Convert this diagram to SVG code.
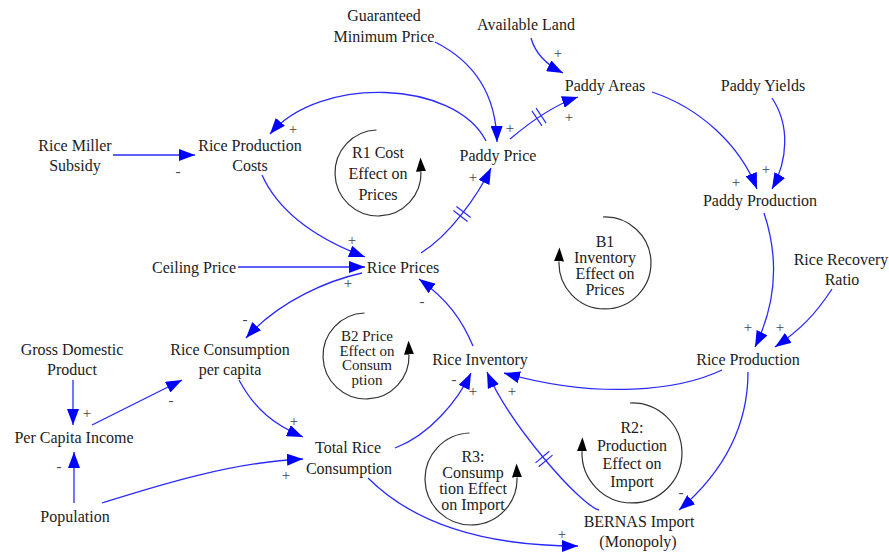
<svg xmlns="http://www.w3.org/2000/svg" xmlns:xlink="http://www.w3.org/1999/xlink" width="889" height="556" viewBox="0 0 889 556">
  <style>
    text { font-family: 'Liberation Serif', 'Times New Roman', Times, serif; }
    .lbl { font-size: 16px; fill: #1c1c1c; text-anchor: middle; }
    .sm { font-size: 15px; }
    .pol { font-size: 15px; fill: #444; text-anchor: middle; }
    .link { fill: none; stroke: #2a2aff; stroke-width: 1.3; marker-end: url(#arrow); }
    .loop { fill: none; stroke: #333; stroke-width: 1.2; marker-end: url(#loopArrow); }
    .delay line { stroke: #2a2aff; stroke-width: 1.2; }
  </style>
  <defs>
    <marker id="arrow" viewBox="0 0 16 12" refX="16" refY="6" markerWidth="16" markerHeight="12" markerUnits="userSpaceOnUse" orient="auto">
      <path d="M0,0 L16,6 L0,12 z" fill="#0000ff"/>
    </marker>
    <marker id="loopArrow" viewBox="0 0 14 10" refX="0" refY="5" markerWidth="14" markerHeight="10" markerUnits="userSpaceOnUse" orient="auto">
      <path d="M0,0 L14,5 L0,10 z" fill="#000"/>
    </marker>
    <g id="delayMark" class="delay">
      <line x1="-2.5" y1="-9" x2="-2.5" y2="9"/>
      <line x1="2.5" y1="-9" x2="2.5" y2="9"/>
    </g>
  </defs>
  <rect width="889" height="556" fill="#fff"/>

  <!-- causal links -->
  <g id="connectors">
    <path class="link" d="M435,42 C475,62 496,95 497,142"/>
    <path class="link" d="M531,38 Q537,60 563,73"/>
    <path class="link" d="M510,139 Q548,107 578,97"/>
    <path class="link" d="M486,141 C455,80 320,75 270,134"/>
    <path class="link" d="M113,155 L195,155"/>
    <path class="link" d="M262,175 C280,215 320,240 365,257"/>
    <path class="link" d="M238,267 L365,267"/>
    <path class="link" d="M421,253 C450,235 478,195 491,168"/>
    <path class="link" d="M362,273 C330,280 280,300 246,338"/>
    <path class="link" d="M473,346 C462,320 448,300 419,279"/>
    <path class="link" d="M722,370 C680,390 600,400 504,373"/>
    <path class="link" d="M652,92 C700,108 740,145 757,189"/>
    <path class="link" d="M772,98 C790,125 788,160 772,189"/>
    <path class="link" d="M764,213 C778,255 778,300 755,347"/>
    <path class="link" d="M832,289 C815,315 800,330 775,347"/>
    <path class="link" d="M748,372 C748,430 720,475 679,510"/>
    <path class="link" d="M599,510 C580,505 510,425 487,372"/>
    <path class="link" d="M395,448 C430,435 458,400 471,373"/>
    <path class="link" d="M368,478 C410,520 478,546 578,546"/>
    <path class="link" d="M239,380 C255,410 275,425 303,437"/>
    <path class="link" d="M92,425 L182,380"/>
    <path class="link" d="M73,380 L73,425"/>
    <path class="link" d="M74,503 L74,452"/>
    <path class="link" d="M102,503 C150,488 230,462 303,459"/>

    <!-- delays -->
    <use xlink:href="#delayMark" transform="translate(539,117) rotate(-33.7)"/>
    <use xlink:href="#delayMark" transform="translate(462,214) rotate(-52)"/>
    <use xlink:href="#delayMark" transform="translate(544,459) rotate(50)"/>

    <!-- link polarities -->
    <text class="pol" x="510" y="133">+</text>
    <text class="pol" x="558" y="58">+</text>
    <text class="pol" x="569" y="122">+</text>
    <text class="pol" x="293" y="134">+</text>
    <text class="pol" x="178" y="176">-</text>
    <text class="pol" x="352" y="245">+</text>
    <text class="pol" x="348" y="288">+</text>
    <text class="pol" x="473" y="182">+</text>
    <text class="pol" x="245" y="324">-</text>
    <text class="pol" x="422" y="306">-</text>
    <text class="pol" x="512" y="396">+</text>
    <text class="pol" x="473" y="396">+</text>
    <text class="pol" x="454" y="384">-</text>
    <text class="pol" x="736" y="187">+</text>
    <text class="pol" x="766" y="174">+</text>
    <text class="pol" x="748" y="332">+</text>
    <text class="pol" x="780" y="332">+</text>
    <text class="pol" x="681" y="497">-</text>
    <text class="pol" x="562" y="539">+</text>
    <text class="pol" x="294" y="426">+</text>
    <text class="pol" x="171" y="405">-</text>
    <text class="pol" x="87" y="418">+</text>
    <text class="pol" x="59" y="471">-</text>
    <text class="pol" x="286" y="480">+</text>
  </g>

  <!-- variables -->
  <g id="guaranteed-minimum-price"><text class="lbl" x="384" y="21">Guaranteed</text><text class="lbl" x="384" y="42">Minimum Price</text></g>
  <g id="available-land"><text class="lbl" x="526" y="30">Available Land</text></g>
  <g id="paddy-areas"><text class="lbl" x="605" y="91">Paddy Areas</text></g>
  <g id="paddy-yields"><text class="lbl" x="763" y="91">Paddy Yields</text></g>
  <g id="rice-miller-subsidy"><text class="lbl" x="75" y="151">Rice Miller</text><text class="lbl" x="75" y="171">Subsidy</text></g>
  <g id="rice-production-costs"><text class="lbl" x="250" y="151">Rice Production</text><text class="lbl" x="250" y="171">Costs</text></g>
  <g id="paddy-price"><text class="lbl" x="498" y="161">Paddy Price</text></g>
  <g id="paddy-production"><text class="lbl" x="760" y="206">Paddy Production</text></g>
  <g id="ceiling-price"><text class="lbl" x="194" y="273">Ceiling Price</text></g>
  <g id="rice-prices"><text class="lbl" x="403" y="273">Rice Prices</text></g>
  <g id="rice-recovery-ratio"><text class="lbl" x="841" y="265">Rice Recovery</text><text class="lbl" x="842" y="285">Ratio</text></g>
  <g id="gross-domestic-product"><text class="lbl" x="72" y="355">Gross Domestic</text><text class="lbl" x="72" y="375">Product</text></g>
  <g id="rice-consumption-per-capita"><text class="lbl" x="230" y="355">Rice Consumption</text><text class="lbl" x="230" y="375">per capita</text></g>
  <g id="rice-inventory"><text class="lbl" x="480" y="365">Rice Inventory</text></g>
  <g id="rice-production"><text class="lbl" x="748" y="365">Rice Production</text></g>
  <g id="per-capita-income"><text class="lbl" x="74" y="443">Per Capita Income</text></g>
  <g id="total-rice-consumption"><text class="lbl" x="348" y="453">Total Rice</text><text class="lbl" x="349" y="474">Consumption</text></g>
  <g id="population"><text class="lbl" x="75" y="522">Population</text></g>
  <g id="bernas-import"><text class="lbl" x="639" y="527">BERNAS Import</text><text class="lbl" x="638" y="547">(Monopoly)</text></g>

  <!-- feedback loops -->
  <g id="loop-r1">
    <path class="loop" d="M376.5,130 A43,43 0 1 0 421,171.5"/>
    <text class="lbl" x="378" y="158">R1 Cost</text><text class="lbl" x="378" y="179">Effect on</text><text class="lbl" x="378" y="200">Prices</text>
  </g>
  <g id="loop-b1">
    <path class="loop" d="M603,217 A46,46 0 1 1 559,261.4"/>
    <text class="lbl" x="605" y="247">B1</text><text class="lbl" x="605" y="263">Inventory</text><text class="lbl" x="605" y="279">Effect on</text><text class="lbl" x="605" y="295">Prices</text>
  </g>
  <g id="loop-b2">
    <path class="loop" d="M364.5,313 A43,43 0 1 0 409,354.5"/>
    <text class="lbl sm" x="367" y="341">B2 Price</text><text class="lbl sm" x="367" y="355.5">Effect on</text><text class="lbl sm" x="367" y="370">Consum</text><text class="lbl sm" x="367" y="384.5">ption</text>
  </g>
  <g id="loop-r3">
    <path class="loop" d="M469.4,433 A46,46 0 1 0 517,477.4"/>
    <text class="lbl" x="473" y="462">R3:</text><text class="lbl" x="473" y="478">Consump</text><text class="lbl" x="473" y="494">tion Effect</text><text class="lbl" x="473" y="510">on Import</text>
  </g>
  <g id="loop-r2">
    <path class="loop" d="M630,403 A50,50 0 1 1 582,451.3"/>
    <text class="lbl" x="632" y="433">R2:</text><text class="lbl" x="632" y="451">Production</text><text class="lbl" x="632" y="469">Effect on</text><text class="lbl" x="632" y="487">Import</text>
  </g>
</svg>
